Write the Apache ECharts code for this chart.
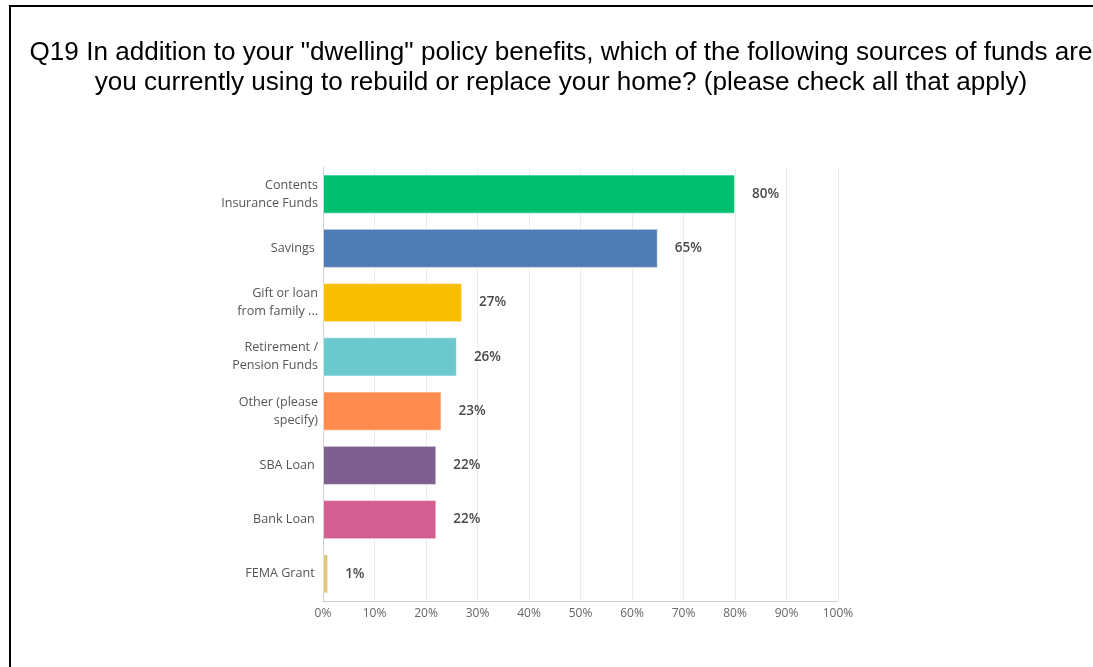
<!DOCTYPE html>
<html>
<head>
<meta charset="utf-8">
<script src="https://cdn.jsdelivr.net/npm/echarts@6/dist/echarts.min.js"></script>
<style>
  html, body { margin: 0; padding: 0; background: #fff; }
  #chart { width: 1093px; height: 667px; }
</style>
</head>
<body>
<div id="chart"></div>
<script>
// Answer choices, top to bottom
const categories = [
  'Contents\nInsurance Funds',
  'Savings ',
  'Gift or loan\nfrom family ...',
  'Retirement /\nPension Funds',
  'Other (please\nspecify)',
  'SBA Loan ',
  'Bank Loan ',
  'FEMA Grant '
];
// Share of respondents (%)
const percents = [80, 65, 27, 26, 23, 22, 22, 1];
const barColors = ['#00bf6f', '#507cb6', '#f9be00', '#6bc8cd', '#ff8b4f', '#7f5f90', '#d25f90', '#dbc87c'];
const tickValues = [0, 10, 20, 30, 40, 50, 60, 70, 80, 90, 100];

const titleText = 'Q19 In addition to your "dwelling" policy benefits, which of the following sources of funds are\nyou currently using to rebuild or replace your home? (please check all that apply)';

const chart = echarts.init(document.getElementById('chart'), null, { renderer: 'canvas' });

// Horizontal bars read top-down, so the category axis is reversed
chart.setOption({
  animation: false,
  backgroundColor: '#fff',
  title: {
    text: titleText,
    left: 556,
    textAlign: 'center',
    top: 33,
    textStyle: {
      fontFamily: 'Liberation Sans',
      fontSize: 26.1,
      fontWeight: 'normal',
      color: '#000',
      lineHeight: 30
    }
  },
  graphic: [{
    type: 'rect',
    shape: { x: 10, y: 6, width: 1200, height: 800 },
    style: { fill: 'none', stroke: '#000', lineWidth: 2 },
    silent: true
  }],
  grid: { left: 323, right: 255, top: 167, bottom: 66, containLabel: false },
  xAxis: {
    type: 'value',
    min: tickValues[0],
    max: tickValues[tickValues.length - 1],
    interval: 10,
    axisLine: { show: true, lineStyle: { color: '#d0d0d0', width: 1 } },
    axisTick: { show: false },
    splitLine: { show: true, lineStyle: { color: '#ececec', width: 1 } },
    axisLabel: {
      formatter: v => v + '%',
      color: '#666',
      fontFamily: 'Open Sans',
      fontSize: 12,
      margin: 7
    }
  },
  yAxis: {
    type: 'category',
    data: categories,
    inverse: true,
    axisLine: { show: true, lineStyle: { color: '#d0d0d0', width: 1 } },
    axisTick: { show: false },
    axisLabel: {
      color: '#555',
      fontFamily: 'Open Sans',
      fontSize: 12.6,
      lineHeight: 18,
      margin: 5,
      align: 'right'
    }
  },
  series: [{
    type: 'bar',
    data: percents.map((v, i) => ({ value: v, itemStyle: { color: barColors[i] } })),
    barCategoryGap: '28%',
    itemStyle: { borderColor: 'rgba(255,255,255,0.5)', borderWidth: 1 },
    label: {
      show: true,
      position: 'right',
      distance: 17,
      formatter: p => p.value + '%',
      color: '#4a4a4a',
      fontFamily: 'Open Sans',
      fontSize: 13.5,
      fontWeight: 600
    }
  }]
});
</script>
</body>
</html>
